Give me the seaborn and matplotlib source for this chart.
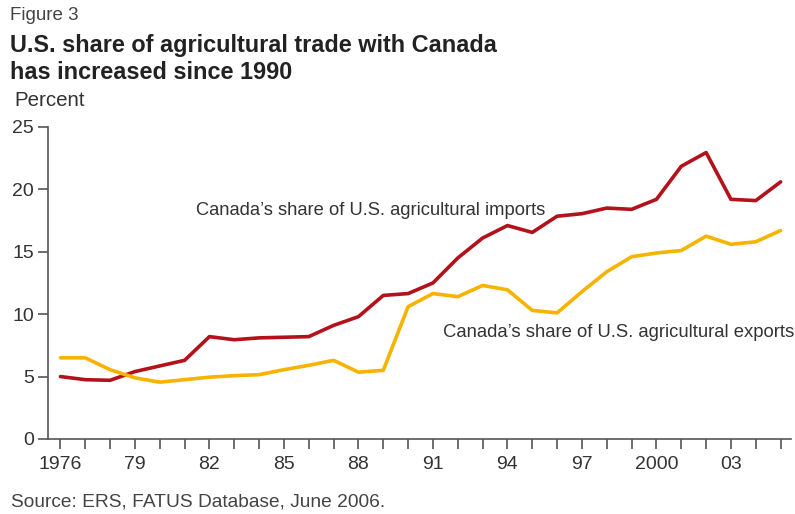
import numpy as np
import pandas as pd
import matplotlib
matplotlib.use("Agg")
import matplotlib.pyplot as plt
import seaborn as sns

years = list(range(1976, 2006))
imports_share = [5.0, 4.75, 4.7, 5.4, 5.85, 6.3, 8.2, 7.95, 8.1, 8.15, 8.2, 9.1, 9.8, 11.5,
                 11.65, 12.5, 14.5, 16.1, 17.1, 16.55, 17.85, 18.05, 18.5, 18.4, 19.2,
                 21.85, 22.95, 19.2, 19.1, 20.6]
exports_share = [6.5, 6.5, 5.55, 4.9, 4.55, 4.75, 4.95, 5.07, 5.15, 5.55, 5.9, 6.3, 5.35, 5.5,
                 10.6, 11.65, 11.4, 12.3, 11.95, 10.3, 10.1, 11.8, 13.4, 14.6, 14.9,
                 15.1, 16.25, 15.6, 15.8, 16.7]
xtick_years = [1976, 1979, 1982, 1985, 1988, 1991, 1994, 1997, 2000, 2003]
xtick_labels = ["1976", "79", "82", "85", "88", "91", "94", "97", "2000", "03"]
ytick_vals = [0, 5, 10, 15, 20, 25]

df = pd.DataFrame({
    "year": years * 2,
    "share": imports_share + exports_share,
    "series": ["imports"] * len(years) + ["exports"] * len(years),
})

sns.set_theme(style="white")
plt.rcParams["font.family"] = ["Liberation Sans", "DejaVu Sans"]

RED = "#B3121C"
YEL = "#F6B400"
AX = "#555555"
TXT = "#333333"

fig = plt.figure(figsize=(7.95, 5.14), dpi=100)
ax = fig.add_axes([0.0604, 0.146, 0.934, 0.607])

sns.lineplot(data=df, x="year", y="share", hue="series",
             palette={"imports": RED, "exports": YEL}, linewidth=2.6,
             legend=False, ax=ax)

ax.set_xlim(1975.5, 2005.4)
ax.set_ylim(0, 25)
ax.set_xticks(years, minor=False)
ax.set_xticklabels([xtick_labels[xtick_years.index(y)] if y in xtick_years else "" for y in years])
ax.set_yticks(ytick_vals)
ax.set_yticklabels([str(v) for v in ytick_vals])
ax.set_xlabel("")
ax.set_ylabel("")

for s in ["top", "right"]:
    ax.spines[s].set_visible(False)
for s in ["left", "bottom"]:
    ax.spines[s].set_color(AX)
    ax.spines[s].set_linewidth(1.2)

ax.tick_params(axis="both", which="major", direction="out", length=7, width=1.2,
               color=AX, labelcolor=TXT, labelsize=14, bottom=True, left=True, pad=3)
ax.tick_params(axis="x", pad=5)

ax.text(1981.45, 18.3, "Canada\u2019s share of U.S. agricultural imports",
        fontsize=13.2, color=TXT, va="center", ha="left")
ax.text(1991.4, 8.5, "Canada\u2019s share of U.S. agricultural exports",
        fontsize=13.3, color=TXT, va="center", ha="left")

fig.text(0.012, 0.970, "Figure 3", fontsize=13.5, color="#444444", va="center")
fig.text(0.013, 0.912, "U.S. share of agricultural trade with Canada",
         fontsize=16.9, fontweight="bold", color="#222222", va="center")
fig.text(0.013, 0.858, "has increased since 1990",
         fontsize=16.9, fontweight="bold", color="#222222", va="center")
fig.text(0.018, 0.805, "Percent", fontsize=14.8, color=TXT, va="center")
fig.text(0.014, 0.023, "Source: ERS, FATUS Database, June 2006.",
         fontsize=13.8, color="#444444", va="center")

fig.savefig("out.png", dpi=100, facecolor="white")
